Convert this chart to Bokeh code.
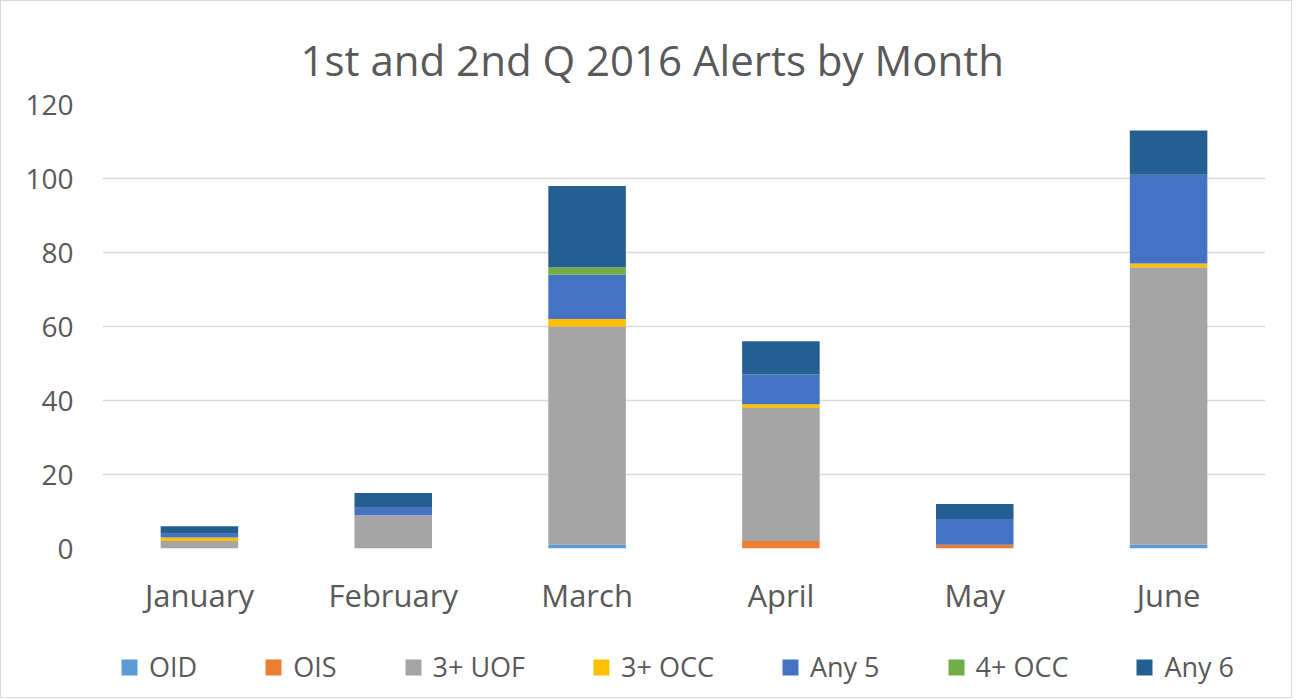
from bokeh.plotting import figure
from bokeh.layouts import column
from bokeh.models import Legend, FixedTicker, Range1d
from bokeh.embed import file_html
from bokeh.resources import INLINE

months = ["January", "February", "March", "April", "May", "June"]
series = ["OID", "OIS", "3+ UOF", "3+ OCC", "Any 5", "4+ OCC", "Any 6"]
oid = [0, 0, 1, 0, 0, 1]
ois = [0, 0, 0, 2, 1, 0]
uof3 = [2, 9, 59, 36, 0, 75]
occ3 = [1, 0, 2, 1, 0, 1]
any5 = [1, 2, 12, 8, 7, 24]
occ4 = [0, 0, 2, 0, 0, 0]
any6 = [2, 4, 22, 9, 4, 12]
y_ticks = [0, 20, 40, 60, 80, 100, 120]
colors = ["#5B9BD5", "#ED7D31", "#A5A5A5", "#FFC000", "#4472C4", "#70AD47", "#255E91"]

data = {"month": months, "OID": oid, "OIS": ois, "3+ UOF": uof3, "3+ OCC": occ3,
        "Any 5": any5, "4+ OCC": occ4, "Any 6": any6}

FONT = "Open Sans"
TXT = "#595959"

# main chart
p = figure(x_range=months, width=1290, height=640, frame_width=1163, frame_height=444,
           output_backend="svg", toolbar_location=None,
           min_border_left=101, min_border_right=26, min_border_top=103, min_border_bottom=93)
p.y_range = Range1d(0, 120)

p.vbar_stack(series, x="month", width=0.4, color=colors, source=data, line_color=None)

p.title.text = "1st and 2nd Q 2016 Alerts by Month"
p.title.align = "left"
p.title.offset = 198
p.title.text_font = FONT
p.title.text_font_size = "42px"
p.title.text_font_style = "normal"
p.title.text_color = TXT
p.title.standoff = 34

p.yaxis.ticker = FixedTicker(ticks=y_ticks)
p.yaxis.axis_line_color = None
p.yaxis.major_tick_line_color = None
p.yaxis.minor_tick_line_color = None
p.yaxis.major_label_text_font = FONT
p.yaxis.major_label_text_font_size = "28px"
p.yaxis.major_label_text_color = TXT
p.yaxis.major_label_standoff = 23

p.xaxis.axis_line_color = None
p.xaxis.major_tick_line_color = None
p.xaxis.major_label_text_font = FONT
p.xaxis.major_label_text_font_size = "31px"
p.xaxis.major_label_text_color = TXT
p.xaxis.major_label_standoff = 19

p.xgrid.grid_line_color = None
p.ygrid.grid_line_color = "#D9D9D9"
p.ygrid.grid_line_width = 1.5
p.outline_line_color = None

# legend strip (same series; bars fall outside this strip's y range)
q = figure(x_range=p.x_range, y_range=Range1d(1000, 1001), width=1290, height=56,
           output_backend="svg", toolbar_location=None,
           min_border_left=0, min_border_right=0, min_border_top=0, min_border_bottom=0)
legend_renderers = q.vbar_stack(series, x="month", width=0.4, color=colors, source=data,
                                line_color=None)
q.axis.visible = False
q.grid.grid_line_color = None
q.outline_line_color = None

legend = Legend(items=[(s, [r]) for s, r in zip(series, legend_renderers)],
                orientation="horizontal", location=(17, 12))
legend.label_text_font = FONT
legend.label_text_font_size = "27px"
legend.label_text_color = TXT
legend.glyph_width = 20
legend.glyph_height = 20
legend.label_standoff = 10
legend.spacing = 66
legend.border_line_color = None
legend.background_fill_alpha = 0
legend.margin = 0
legend.padding = 4
q.add_layout(legend, "center")

layout = column(p, q, spacing=0)
layout.styles = {"border": "1px solid #D9D9D9"}

open("out.html", "w").write(file_html(layout, INLINE))
